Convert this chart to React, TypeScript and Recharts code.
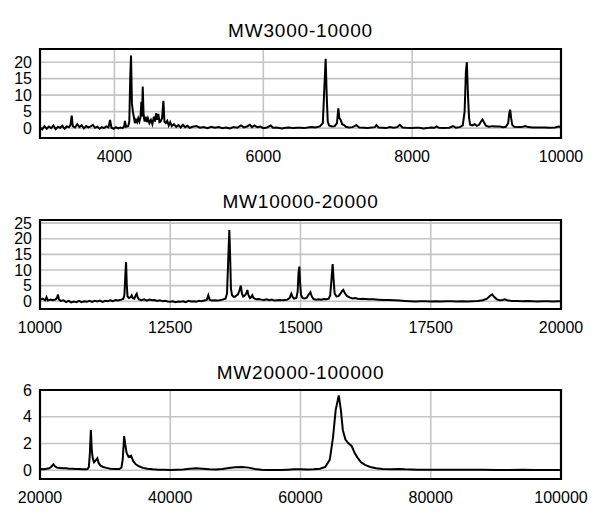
import React from "react";
import { ComposedChart, Line, XAxis, YAxis, CartesianGrid, ReferenceArea } from "recharts";

// ---------- Panel 1: MW3000-10000 ----------
const title1 = "MW3000-10000";
const mw1 = [3000,3030,3060,3090,3120,3150,3180,3210,3240,3270,3300,3330,3360,3390,3410,3426,3440,3470,3500,3530,3560,3590,3620,3650,3680,3710,3740,3770,3800,3830,3860,3890,3920,3941,3960,3990,4020,4050,4080,4110,4130,4142,4155,4185,4200,4212,4223,4235,4248,4260,4275,4290,4305,4320,4335,4350,4362,4372,4380,4392,4405,4420,4435,4450,4470,4490,4510,4530,4545,4560,4575,4590,4605,4620,4640,4658,4672,4690,4710,4730,4750,4770,4800,4830,4860,4890,4920,4950,4980,5010,5050,5100,5150,5200,5250,5300,5350,5400,5450,5500,5550,5600,5650,5700,5740,5780,5820,5850,5880,5920,5960,6000,6050,6100,6130,6180,6250,6300,6350,6400,6450,6500,6550,6600,6650,6700,6760,6800,6820,6838,6852,6866,6885,6920,6960,6990,7008,7022,7040,7060,7080,7110,7150,7200,7250,7290,7350,7400,7450,7500,7520,7550,7600,7650,7700,7750,7800,7835,7870,7920,8000,8050,8100,8150,8200,8250,8300,8330,8360,8420,8500,8550,8590,8640,8680,8705,8722,8735,8750,8765,8780,8810,8840,8870,8900,8925,8945,8965,8990,9030,9080,9130,9180,9220,9260,9290,9305,9317,9330,9345,9370,9420,9470,9520,9560,9620,9700,9780,9850,9920,9970,10000];
const int1 = [0.3,-0.4,0.6,-0.2,0.5,0.0,0.8,-0.3,0.4,0.1,0.7,-0.2,0.5,0.3,1.0,3.8,0.6,0.2,1.2,0.3,0.9,-0.1,0.6,0.2,0.5,1.0,0.1,0.4,-0.2,0.3,0.0,0.5,0.2,2.5,0.1,-0.2,0.3,-0.1,0.2,0.0,0.5,2.2,0.4,0.6,2.0,15,22,7.5,5,3.5,1.5,2.5,1.8,3.0,2.0,3.2,8.0,3.5,12.6,4,2.0,3.5,1.8,3.0,1.5,2.5,1.2,3.5,2.0,4.5,2.5,4.3,1.8,2.0,3.0,8.3,2.0,1.5,2.2,0.8,1.8,0.6,1.2,0.4,0.9,0.2,1.0,0.3,0.7,0.1,0.4,0.6,0.1,0.3,0.0,0.4,0.1,0.3,0.0,0.2,-0.1,0.3,0.1,0.8,0.2,0.5,1.0,0.3,0.8,0.3,0.5,0.0,0.2,0.8,0.1,0.2,-0.1,0.1,0.2,0.0,0.1,0.1,0.0,0.2,0.3,0.2,0.5,1.5,12,21,10,2.0,0.8,0.5,0.6,1.5,6.0,3.0,2.5,1.2,1.0,0.4,0.2,0.3,0.9,0.2,0.1,0.0,0.2,0.3,0.9,0.2,0.1,0.0,0.3,0.1,0.3,1.0,0.2,0.1,0.0,0.1,0.1,-0.1,0.0,0.2,0.1,0.5,0.1,0.0,0.1,0.6,0.1,0.3,0.8,5,17,20,10,3.0,1.0,0.8,1.2,0.7,1.0,2.0,2.6,1.8,0.7,0.4,0.6,0.5,0.5,0.3,0.4,1.5,4.5,5.6,3.0,1.0,0.4,0.3,0.3,0.6,0.3,0.2,0.2,0.2,0.1,0.2,0.5,0.3];
const xTicks1 = [4000, 6000, 8000, 10000];
const yTicks1 = [0, 5, 10, 15, 20];

// ---------- Panel 2: MW10000-20000 ----------
const title2 = "MW10000-20000";
const mw2 = [10000,10050,10100,10125,10150,10200,10250,10300,10330,10345,10365,10400,10450,10500,10550,10600,10650,10700,10750,10800,10850,10900,10950,11000,11050,11100,11150,11200,11250,11300,11350,11400,11450,11500,11560,11600,11620,11640,11652,11665,11680,11710,11740,11760,11780,11810,11840,11857,11875,11900,11950,12000,12050,12100,12150,12200,12250,12300,12350,12400,12450,12500,12550,12600,12650,12700,12750,12800,12850,12900,12950,13000,13050,13100,13150,13200,13230,13255,13300,13350,13400,13450,13500,13560,13590,13610,13634,13650,13665,13685,13710,13740,13770,13800,13830,13855,13875,13900,13930,13960,13980,14000,14030,14050,14075,14100,14150,14200,14250,14300,14350,14400,14450,14500,14550,14600,14650,14700,14750,14790,14824,14850,14880,14920,14945,14962,14978,14992,15010,15040,15080,15120,15160,15191,15215,15250,15300,15350,15400,15450,15500,15540,15570,15595,15617,15635,15655,15690,15730,15770,15800,15822,15850,15890,15940,16000,16050,16100,16150,16200,16300,16400,16500,16600,16700,16800,16900,17000,17100,17200,17300,17400,17500,17600,17700,17800,17900,18000,18100,18200,18300,18400,18500,18580,18630,18678,18720,18770,18820,18880,18920,18970,19050,19150,19250,19350,19450,19550,19650,19750,19850,19950,20000];
const int2 = [0.4,0.8,0.3,1.3,0.2,0.5,0.3,0.6,1.2,2.1,0.5,0.1,0.3,-0.3,0.1,-0.4,-0.1,-0.3,0.1,-0.3,0.0,-0.2,0.1,-0.2,0.1,-0.1,0.2,-0.2,0.1,0.0,0.3,0.0,0.4,0.2,0.5,0.8,2,9,12.5,5.5,1.5,1.0,1.3,1.9,1.0,0.8,2.0,2.4,1.2,0.6,0.3,0.6,0.2,0.5,0.3,0.4,0.1,0.3,0.0,0.1,-0.1,-0.2,0.0,-0.3,-0.1,-0.2,0.0,-0.3,0.1,-0.1,0.0,-0.2,0.1,0.0,0.2,0.4,1.9,0.5,0.2,0.3,0.2,0.3,0.5,0.8,2.5,12,22.8,14,4,2.0,1.5,1.4,1.8,2.2,3.5,5.0,2.5,1.5,1.8,2.5,3.6,2.0,1.0,1.2,1.9,1.0,0.6,0.7,0.5,0.4,0.6,0.3,0.5,0.2,0.3,0.4,0.3,0.4,0.5,1.0,2.4,1.3,0.8,1.0,3.0,9.0,11.1,6.0,2.0,1.0,0.9,1.1,2.2,2.9,1.6,0.7,0.5,0.6,0.5,0.7,0.6,0.8,1.8,7.0,11.9,7.0,2.5,1.5,1.6,2.5,3.3,3.6,2.6,1.7,1.2,0.9,1.0,0.8,0.7,0.8,0.6,0.6,0.5,0.4,0.4,0.3,0.2,0.1,0.0,-0.1,0.0,0.0,-0.1,0.0,-0.1,0.0,0.0,-0.1,0.0,-0.1,0.0,0.1,0.3,0.8,1.6,2.2,1.3,0.6,0.3,0.4,0.6,0.3,0.1,0.1,0.0,0.1,0.0,-0.1,0.0,0.0,-0.1,0.0,0.0];
const xTicks2 = [10000, 12500, 15000, 17500, 20000];
const yTicks2 = [0, 5, 10, 15, 20, 25];

// ---------- Panel 3: MW20000-100000 ----------
const title3 = "MW20000-100000";
const mw3 = [20000,20300,20600,21000,21400,21700,22056,22300,22600,23000,23500,24000,24500,25000,25500,26000,26500,27000,27300,27500,27650,27812,27950,28100,28300,28500,28811,29000,29300,29700,30200,30800,31500,32200,32500,32700,32923,33100,33300,33600,33980,34300,34700,35200,35800,36500,37300,38200,39000,40000,41000,42000,43000,44000,45000,46000,47000,48000,49000,50000,51000,52000,53000,54000,55000,56000,57000,58000,59000,60000,61000,62000,63000,63800,64500,65000,65400,65876,66200,66500,66900,67290,67870,68300,68750,69300,69900,70700,71600,72600,74000,75000,76000,78000,80000,82000,84000,86000,88000,90000,92000,94000,96000,98000,100000];
const int3 = [0.05,0.1,0.08,0.12,0.15,0.25,0.45,0.3,0.2,0.18,0.15,0.15,0.12,0.12,0.1,0.1,0.08,0.08,0.1,0.25,1.2,3.0,1.5,0.9,0.6,0.7,0.9,0.55,0.35,0.25,0.18,0.12,0.1,0.1,0.2,0.8,2.55,1.9,1.3,1.0,1.1,0.7,0.45,0.3,0.18,0.12,0.08,0.05,0.04,0.03,0.04,0.06,0.12,0.15,0.12,0.08,0.06,0.1,0.17,0.22,0.25,0.2,0.1,0.05,0.03,0.02,0.03,0.05,0.08,0.07,0.06,0.08,0.12,0.25,0.8,2.5,4.5,5.6,4.5,3.0,2.3,2.05,1.8,1.3,0.95,0.6,0.4,0.25,0.15,0.1,0.08,0.1,0.07,0.05,0.05,0.04,0.04,0.04,0.04,0.03,0.03,0.05,0.03,0.03,0.03];
const xTicks3 = [20000, 40000, 60000, 80000, 100000];
const yTicks3 = [0, 2, 4, 6];

const FONT = "'Liberation Sans', Arial, Helvetica, sans-serif";

type PanelProps = {
  title: string;
  xs: number[];
  ys: number[];
  xDomain: [number, number];
  yDomain: [number, number];
  xTicks: number[];
  yTicks: number[];
  top: number;
  height: number;
  marginTop: number;
  marginBottom: number;
  titleTop: number;
};

function Panel(p: PanelProps) {
  const data = p.xs.map((x, i) => ({ x, v: p.ys[i] }));
  const tickStyle = { fontSize: 16, fill: "#000", fontFamily: FONT };
  return (
    <div style={{ position: "absolute", left: 0, top: p.top, width: 600, height: p.height }}>
      <div
        style={{
          position: "absolute",
          left: 0,
          width: 601,
          top: p.titleTop,
          textAlign: "center",
          fontFamily: FONT,
          fontSize: 19,
          letterSpacing: 0.8,
          lineHeight: "19px",
          color: "#000",
        }}
      >
        {p.title}
      </div>
      <ComposedChart
        width={600}
        height={p.height}
        data={data}
        margin={{ top: p.marginTop, right: 39, bottom: p.marginBottom, left: 0 }}
      >
        <CartesianGrid
          stroke="#c4c4c4"
          strokeWidth={1.6}
          horizontalValues={p.yTicks}
          verticalValues={p.xTicks}
        />
        <XAxis
          dataKey="x"
          type="number"
          domain={p.xDomain}
          ticks={p.xTicks}
          interval={0}
          allowDataOverflow
          axisLine={false}
          tickLine={false}
          tickSize={0}
          tickMargin={13}
          height={30}
          tick={tickStyle}
        />
        <YAxis
          type="number"
          domain={p.yDomain}
          ticks={p.yTicks}
          interval={0}
          allowDataOverflow
          axisLine={false}
          tickLine={false}
          tickSize={0}
          tickMargin={8}
          width={40}
          tick={tickStyle}
        />
        <Line
          type="linear"
          dataKey="v"
          stroke="#000"
          strokeWidth={2}
          dot={false}
          activeDot={false}
          isAnimationActive={false}
        />
        <ReferenceArea
          x1={p.xDomain[0]}
          x2={p.xDomain[1]}
          y1={p.yDomain[0]}
          y2={p.yDomain[1]}
          fill="none"
          stroke="#000"
          strokeWidth={2.2}
          ifOverflow="visible"
        />
      </ComposedChart>
    </div>
  );
}

export default function App() {
  return (
    <div style={{ position: "absolute", left: 0, top: 0, width: 600, height: 520, background: "#fff" }}>
      <Panel
        title={title1}
        xs={mw1}
        ys={int1}
        xDomain={[3000, 10000]}
        yDomain={[-3, 24]}
        xTicks={xTicks1}
        yTicks={yTicks1}
        top={0}
        height={170}
        marginTop={49}
        marginBottom={2}
        titleTop={20.7}
      />
      <Panel
        title={title2}
        xs={mw2}
        ys={int2}
        xDomain={[10000, 20000]}
        yDomain={[-2.5, 26]}
        xTicks={xTicks2}
        yTicks={yTicks2}
        top={170}
        height={170}
        marginTop={50}
        marginBottom={1}
        titleTop={21.7}
      />
      <Panel
        title={title3}
        xs={mw3}
        ys={int3}
        xDomain={[20000, 100000]}
        yDomain={[-0.65, 6]}
        xTicks={xTicks3}
        yTicks={yTicks3}
        top={340}
        height={180}
        marginTop={50}
        marginBottom={11}
        titleTop={22.7}
      />
    </div>
  );
}
